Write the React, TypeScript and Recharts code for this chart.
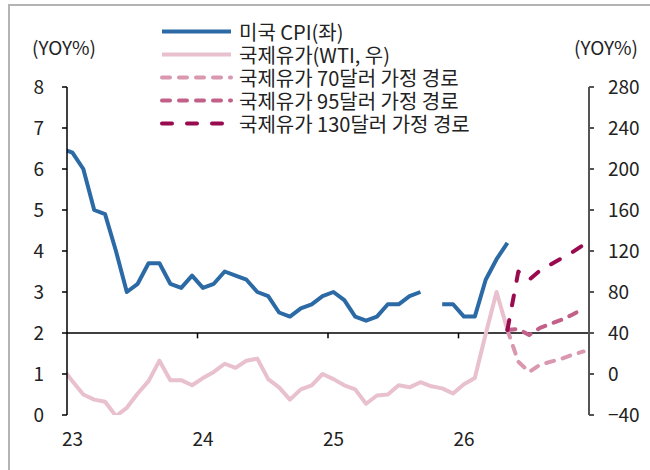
import { Legend, Line, LineChart, ReferenceLine, XAxis, YAxis } from "recharts";

// 22.12 is only there so the first segment runs into the left axis, like the original
const months = [
  "22.12",
  "23.01", "23.02", "23.03", "23.04", "23.05", "23.06", "23.07", "23.08", "23.09", "23.10", "23.11", "23.12",
  "24.01", "24.02", "24.03", "24.04", "24.05", "24.06", "24.07", "24.08", "24.09", "24.10", "24.11", "24.12",
  "25.01", "25.02", "25.03", "25.04", "25.05", "25.06", "25.07", "25.08", "25.09", "25.10", "25.11", "25.12",
  "26.01", "26.02", "26.03", "26.04", "26.05", "26.06", "26.07", "26.08", "26.09", "26.10", "26.11", "26.12",
];

const cpi = [
  6.5,
  6.4, 6.0, 5.0, 4.9, 4.0, 3.0, 3.2, 3.7, 3.7, 3.2, 3.1, 3.4,
  3.1, 3.2, 3.5, 3.4, 3.3, 3.0, 2.9, 2.5, 2.4, 2.6, 2.7, 2.9,
  3.0, 2.8, 2.4, 2.3, 2.4, 2.7, 2.7, 2.9, 3.0, null, 2.7, 2.7,
  2.4, 2.4, 3.3, 3.8, 4.2, null, null, null, null, null, null, null,
];

const wti = [
  7,
  -7, -20, -25, -27, -41, -33, -19, -7, 13, -6, -6, -11,
  -4, 2, 10, 6, 13, 15, -5, -13, -25, -15, -11, 0,
  -5, -11, -15, -29, -21, -20, -11, -13, -8, -12, -14, -19,
  -10, -4, 39, 80, 43, null, null, null, null, null, null, null,
];

// scenarios from 26.05 to 26.12
const oil70 = [43, 12, 2, 9, 12, 15, 19, 22];
const oil95 = [43, 44, 38, 45, 49, 53, 58, 64];
const oil130 = [43, 100, 92, 101, 107, 113, 119, 126];
const scenarioStart = "26.05";

const yearLabels = ["23", "24", "25", "26"];
const leftTicks = [0, 1, 2, 3, 4, 5, 6, 7, 8];
const rightTicks = [-40, 0, 40, 80, 120, 160, 200, 240, 280];

const FONT = '"Noto Sans CJK KR", "Noto Sans", sans-serif';
const TEXT = "#222";

const series = [
  { key: "cpi", name: "미국 CPI(좌)", color: "#2c6aa6", dash: undefined, axis: "left" },
  { key: "wti", name: "국제유가(WTI, 우)", color: "#e8c0ce", dash: undefined, axis: "right" },
  { key: "oil70", name: "국제유가 70달러 가정 경로", color: "#da97b0", dash: "8 9", axis: "right" },
  { key: "oil95", name: "국제유가 95달러 가정 경로", color: "#c2608a", dash: "8 9", axis: "right" },
  { key: "oil130", name: "국제유가 130달러 가정 경로", color: "#990a4e", dash: "10 15", axis: "right" },
];

const s0 = months.indexOf(scenarioStart);
const rows = months.map((m, i) => ({
  month: m,
  x: i - 0.5,
  cpi: cpi[i],
  wti: wti[i],
  oil70: i >= s0 ? oil70[i - s0] : null,
  oil95: i >= s0 ? oil95[i - s0] : null,
  oil130: i >= s0 ? oil130[i - s0] : null,
}));

const yearTicks = yearLabels.map((y) => months.indexOf(`${y}.01`) - 0.5);
const yearBounds = yearLabels.slice(1).map((y) => months.indexOf(`${y}.01`) - 1);

function LegendBox() {
  return (
    <div style={{ fontFamily: FONT }}>
      {series.map((s) => (
        <div key={s.key} style={{ display: "flex", alignItems: "center", height: 23 }}>
          <svg width={76} height={23} style={{ flex: "none" }}>
            <line
              x1={3}
              x2={72}
              y1={11.5}
              y2={11.5}
              stroke={s.color}
              strokeWidth={4}
              strokeDasharray={s.dash}
              strokeLinecap={s.dash ? "round" : "butt"}
            />
          </svg>
          <div
            style={{
              marginLeft: 4,
              height: 23,
              lineHeight: "23px",
              fontSize: 20,
              color: TEXT,
              whiteSpace: "nowrap",
              overflow: "visible",
            }}
          >
            {s.name}
          </div>
        </div>
      ))}
    </div>
  );
}

export default function App() {
  return (
    <div style={{ position: "absolute", left: 0, top: 0, width: 650, height: 470, overflow: "hidden", fontFamily: FONT, background: "#fff" }}>
      <div
        style={{
          position: "absolute",
          left: 8,
          top: 4,
          right: -10,
          bottom: -10,
          borderTop: "2px solid #b4b4b4",
          borderLeft: "2px solid #b4b4b4",
        }}
      />
      <span style={{ position: "absolute", left: 32, top: 33, fontSize: 19, color: TEXT }}>(YOY%)</span>
      <span style={{ position: "absolute", left: 574, top: 33, fontSize: 19, color: TEXT }}>(YOY%)</span>
      <LineChart width={650} height={470} data={rows} margin={{ top: 87, right: 0, bottom: 0, left: 0 }}>
        <XAxis
          dataKey="x"
          type="number"
          domain={[0, 48]}
          allowDataOverflow
          ticks={yearTicks}
          tickFormatter={(v: number) => yearLabels[yearTicks.indexOf(v)] ?? ""}
          axisLine={false}
          tickLine={false}
          tickSize={0}
          tickMargin={18}
          height={55}
          interval={0}
          tick={{ fill: TEXT, fontSize: 19, fontFamily: FONT }}
        />
        <YAxis
          yAxisId="left"
          domain={[0, 8]}
          ticks={leftTicks}
          allowDataOverflow
          width={67}
          interval={0}
          tickSize={5}
          tickMargin={18}
          axisLine={{ stroke: "#000", strokeWidth: 1.5 }}
          tickLine={{ stroke: "#000", strokeWidth: 1.5 }}
          tick={{ fill: TEXT, fontSize: 19, fontFamily: FONT }}
        />
        <YAxis
          yAxisId="right"
          orientation="right"
          domain={[-40, 280]}
          ticks={rightTicks}
          allowDataOverflow
          width={61}
          interval={0}
          tickSize={5}
          tickMargin={14}
          tickFormatter={(v: number) => String(v).replace("-", "\u2212")}
          axisLine={{ stroke: "#555", strokeWidth: 2 }}
          tickLine={{ stroke: "#555", strokeWidth: 2 }}
          tick={{ fill: TEXT, fontSize: 19, fontFamily: FONT }}
        />
        <ReferenceLine yAxisId="left" y={2} stroke="#000" strokeWidth={1.5} />
        {yearBounds.map((b) => (
          <ReferenceLine
            key={b}
            yAxisId="left"
            segment={[
              { x: b, y: 2 },
              { x: b, y: 1.87 },
            ]}
            stroke="#000"
            strokeWidth={1.5}
          />
        ))}
        <Legend
          layout="vertical"
          align="center"
          verticalAlign="middle"
          wrapperStyle={{ left: 159, top: 20, width: 360 }}
          content={() => <LegendBox />}
        />
        {series.map((s) => (
          <Line
            key={s.key}
            yAxisId={s.axis}
            dataKey={s.key}
            name={s.name}
            type="linear"
            stroke={s.color}
            strokeWidth={4}
            strokeDasharray={s.dash}
            strokeLinecap={s.dash ? "round" : "butt"}
            strokeLinejoin="round"
            dot={false}
            activeDot={false}
            isAnimationActive={false}
          />
        ))}
      </LineChart>
    </div>
  );
}
